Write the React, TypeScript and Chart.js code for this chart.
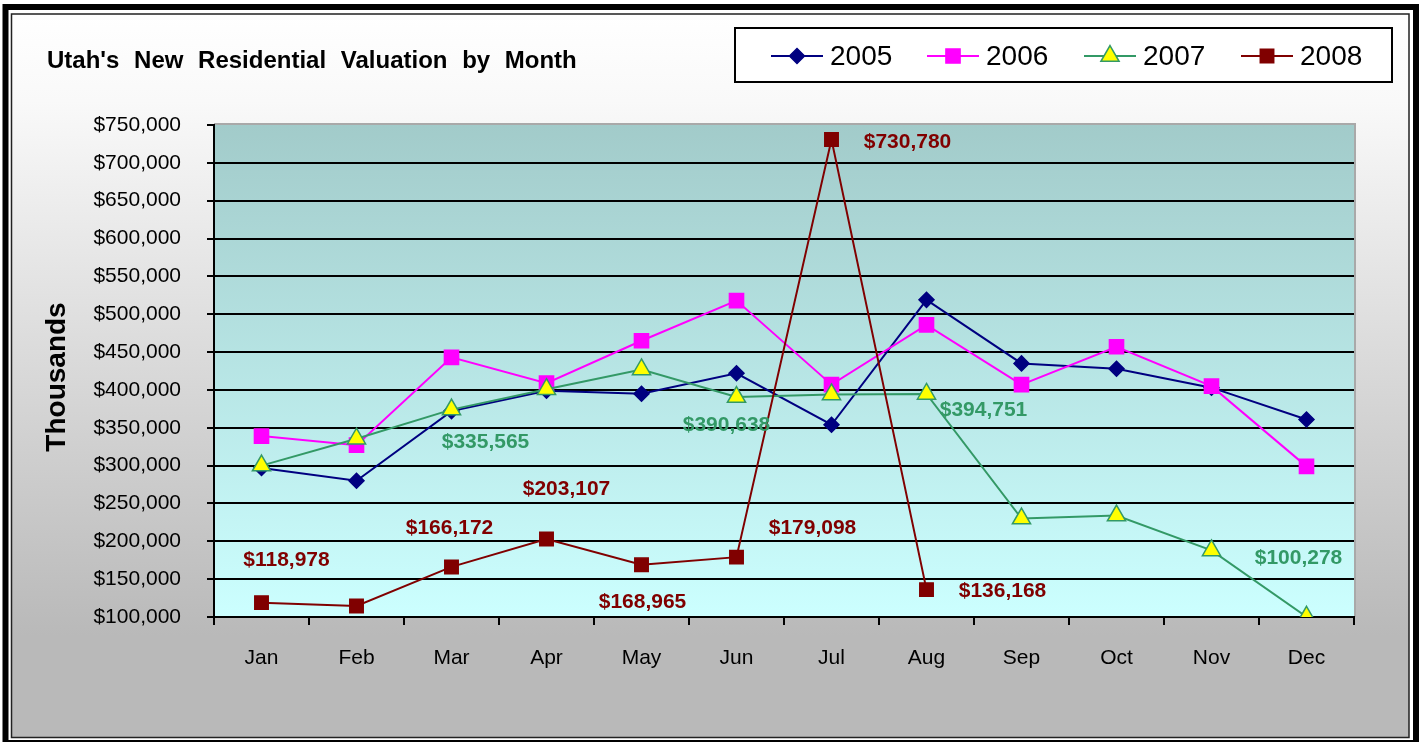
import React, { useEffect, useRef } from "react";
import { Chart, registerables } from "chart.js";

Chart.register(...registerables);

const W = 1424;
const H = 742;

const months = ["Jan", "Feb", "Mar", "Apr", "May", "Jun", "Jul", "Aug", "Sep", "Oct", "Nov", "Dec"];
const seriesNames = ["2005", "2006", "2007", "2008"];

const values2005 = [297000, 280000, 372000, 399000, 395000, 422000, 354000, 519000, 435000, 428000, 403000, 361000];
const values2006 = [339000, 327000, 443000, 409000, 465000, 518000, 407000, 486000, 407000, 457000, 405000, 299000];
const values2007 = [300000, 335565, 374000, 401000, 427000, 390638, 394000, 394751, 230000, 234000, 188000, 100278];
const values2008 = [118978, 114500, 166172, 203107, 168965, 179098, 730780, 136168, null, null, null, null];

const yMin = 100000;
const yMax = 750000;
const yStep = 50000;

const titleText = "Utah's New Residential Valuation by Month";
const yAxisTitle = "Thousands";

// which points carry a value label (series index, month index) and where the label sits relative to the point
const labelSpecs = [
  { series: 3, index: 0, dx: 25, dy: -42 },
  { series: 3, index: 2, dx: -2, dy: -39 },
  { series: 3, index: 3, dx: 20, dy: -50 },
  { series: 3, index: 4, dx: 1, dy: 37 },
  { series: 3, index: 5, dx: 76, dy: -29 },
  { series: 3, index: 6, dx: 76, dy: 3 },
  { series: 3, index: 7, dx: 76, dy: 2 },
  { series: 2, index: 1, dx: 129, dy: 4 },
  { series: 2, index: 5, dx: -10, dy: 28 },
  { series: 2, index: 7, dx: 57, dy: 16 },
  { series: 2, index: 11, dx: -8, dy: -59 },
];

const styles = [
  { line: "#000080", fill: "#000080", border: "#000080", point: "rectRot", r: 7.5 },
  { line: "#FF00FF", fill: "#FF00FF", border: "#FF00FF", point: "rect", r: 10 },
  { line: "#339966", fill: "#FFFF00", border: "#339966", point: "triangle", r: 10.5 },
  { line: "#800000", fill: "#800000", border: "#800000", point: "rect", r: 9.5 },
];

const FONT = "'Liberation Sans', Arial, Helvetica, sans-serif";

function fmt(v: number) {
  return "$" + Math.round(v).toLocaleString("en-US");
}

function drawMarker(ctx: CanvasRenderingContext2D, kind: string, x: number, y: number, r: number, fill: string, stroke: string) {
  ctx.beginPath();
  if (kind === "rectRot") {
    ctx.moveTo(x, y - r);
    ctx.lineTo(x + r, y);
    ctx.lineTo(x, y + r);
    ctx.lineTo(x - r, y);
    ctx.closePath();
  } else if (kind === "rect") {
    const s = r * Math.SQRT1_2;
    ctx.rect(x - s, y - s, 2 * s, 2 * s);
  } else {
    const a = -Math.PI / 2;
    for (let k = 0; k < 3; k++) {
      const ang = a + (k * 2 * Math.PI) / 3;
      const px = x + Math.cos(ang) * r;
      const py = y + Math.sin(ang) * r;
      if (k === 0) ctx.moveTo(px, py);
      else ctx.lineTo(px, py);
    }
    ctx.closePath();
  }
  ctx.fillStyle = fill;
  ctx.fill();
  ctx.strokeStyle = stroke;
  ctx.lineWidth = 1.5;
  ctx.stroke();
}

const framePlugin = {
  id: "framePlugin",
  beforeDraw(chart: any) {
    const ctx: CanvasRenderingContext2D = chart.ctx;
    ctx.save();
    ctx.fillStyle = "#ffffff";
    ctx.fillRect(0, 0, W, H);
    const g = ctx.createLinearGradient(0, 14, 0, 737);
    g.addColorStop(0, "#ffffff");
    g.addColorStop(0.12, "#f9f9f9");
    g.addColorStop(0.86, "#b9b9b9");
    g.addColorStop(1, "#b9b9b9");
    ctx.fillStyle = g;
    ctx.fillRect(12, 14, 1397, 724);
    ctx.strokeStyle = "#222";
    ctx.lineWidth = 1.5;
    ctx.strokeRect(11.5, 14, 1397.5, 723.5);
    ctx.strokeStyle = "#000";
    ctx.lineWidth = 6;
    ctx.strokeRect(5.5, 7, 1410.5, 736);

    const a = chart.chartArea;
    const pg = ctx.createLinearGradient(0, a.top, 0, a.bottom);
    pg.addColorStop(0, "#a2cbca");
    pg.addColorStop(1, "#ccffff");
    ctx.fillStyle = pg;
    ctx.fillRect(a.left, a.top, a.right - a.left, a.bottom - a.top);
    ctx.strokeStyle = "#a9a9a9";
    ctx.lineWidth = 2;
    ctx.beginPath();
    ctx.moveTo(a.left, a.top - 1);
    ctx.lineTo(a.right + 1, a.top - 1);
    ctx.lineTo(a.right + 1, a.bottom);
    ctx.stroke();

    // title
    ctx.fillStyle = "#000";
    ctx.font = `bold 24px ${FONT}`;
    ctx.textAlign = "left";
    ctx.textBaseline = "middle";
    (ctx as any).wordSpacing = "8px";
    ctx.fillText(titleText, 47, 61, 541);
    (ctx as any).wordSpacing = "0px";

    // y axis title
    ctx.save();
    ctx.translate(57, 377);
    ctx.rotate(-Math.PI / 2);
    ctx.font = `bold 28px ${FONT}`;
    ctx.textAlign = "center";
    ctx.textBaseline = "middle";
    ctx.fillText(yAxisTitle, 0, 0, 156);
    ctx.restore();
    ctx.restore();
  },
  afterDatasetsDraw(chart: any) {
    const ctx: CanvasRenderingContext2D = chart.ctx;
    ctx.save();
    ctx.font = `bold 21px ${FONT}`;
    ctx.textAlign = "center";
    ctx.textBaseline = "middle";
    for (const s of labelSpecs) {
      const meta = chart.getDatasetMeta(s.series);
      const pt = meta.data[s.index];
      const v = chart.data.datasets[s.series].data[s.index];
      if (!pt || v == null) continue;
      ctx.fillStyle = styles[s.series].line;
      ctx.fillText(fmt(v), pt.x + s.dx, pt.y + s.dy);
    }
    ctx.restore();
  },
  afterDraw(chart: any) {
    const ctx: CanvasRenderingContext2D = chart.ctx;
    ctx.save();
    // legend box
    ctx.fillStyle = "#ffffff";
    ctx.fillRect(735, 28, 657, 54);
    ctx.strokeStyle = "#000";
    ctx.lineWidth = 2;
    ctx.strokeRect(735, 28, 657, 54);
    const centers = [797, 953, 1110, 1267];
    const cy = 56;
    ctx.font = `28px ${FONT}`;
    ctx.textAlign = "left";
    ctx.textBaseline = "middle";
    seriesNames.forEach((name, i) => {
      const st = styles[i];
      const cx = centers[i];
      ctx.strokeStyle = st.line;
      ctx.lineWidth = 2;
      ctx.beginPath();
      ctx.moveTo(cx - 26, cy);
      ctx.lineTo(cx + 26, cy);
      ctx.stroke();
      drawMarker(ctx, st.point, cx, cy, st.r, st.fill, st.border);
      ctx.fillStyle = "#000";
      ctx.fillText(name, cx + 33, cy + 1);
    });
    ctx.restore();
  },
};

export default function App() {
  const ref = useRef<HTMLCanvasElement | null>(null);

  useEffect(() => {
    document.body.style.margin = "0";
    const canvas = ref.current;
    if (!canvas) return;
    const allValues = [values2005, values2006, values2007, values2008];
    const chart = new Chart(canvas, {
      type: "line",
      data: {
        labels: months,
        datasets: allValues.map((vals, i) => ({
          label: seriesNames[i],
          data: vals,
          borderColor: styles[i].line,
          backgroundColor: styles[i].fill,
          borderWidth: 2,
          pointStyle: styles[i].point as any,
          pointRadius: styles[i].r,
          pointHoverRadius: styles[i].r,
          pointBackgroundColor: styles[i].fill,
          pointBorderColor: styles[i].border,
          pointBorderWidth: 1.5,
          tension: 0,
          fill: false,
          spanGaps: false,
          order: 3 - i,
        })),
      },
      options: {
        animation: false,
        responsive: false,
        maintainAspectRatio: false,
        devicePixelRatio: 1,
        layout: { padding: { top: 125, right: 70, bottom: 0, left: 0 } },
        plugins: {
          legend: { display: false },
          title: { display: false },
          tooltip: { enabled: false },
        },
        scales: {
          x: {
            type: "category",
            offset: true,
            grid: {
              display: true,
              offset: true,
              drawOnChartArea: false,
              drawTicks: true,
              tickLength: 8,
              color: "#000",
              tickColor: "#000",
              lineWidth: 2,
            },
            border: { display: true, color: "#000", width: 2 },
            ticks: {
              color: "#000",
              font: { family: FONT, size: 21 },
              padding: 21,
              maxRotation: 0,
              autoSkip: false,
            },
            afterFit(scale: any) {
              scale.height = H - 617;
            },
          },
          y: {
            type: "linear",
            min: yMin,
            max: yMax,
            grid: {
              color: (c: any) => (c.tick && c.tick.value === yMax ? "rgba(0,0,0,0)" : "#000"),
              tickColor: "#000",
              lineWidth: 2,
              tickLength: 7,
              drawTicks: true,
            },
            border: { display: true, color: "#000", width: 2 },
            ticks: {
              stepSize: yStep,
              color: "#000",
              font: { family: FONT, size: 21 },
              padding: 26,
              callback: (v: any) => fmt(Number(v)),
            },
            afterFit(scale: any) {
              scale.width = 214;
            },
          },
        },
      },
      plugins: [framePlugin],
    });
    return () => chart.destroy();
  }, []);

  return (
    <div style={{ width: W, height: H, position: "relative", overflow: "hidden" }}>
      <canvas ref={ref} width={W} height={H} style={{ width: W, height: H, display: "block" }} />
    </div>
  );
}
